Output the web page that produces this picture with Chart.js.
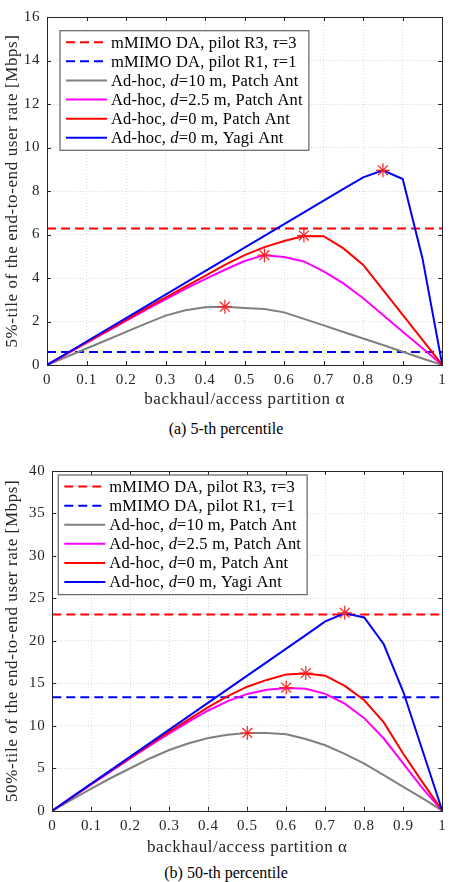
<!DOCTYPE html>
<html>
<head>
<meta charset="utf-8">
<script src="https://cdn.jsdelivr.net/npm/chart.js@4.4.0/dist/chart.umd.min.js"></script>
<style>
body { margin: 0; background: #fff; width: 452px; height: 882px; position: relative; overflow: hidden; font-family: "Liberation Serif", serif; }
.panel { position: absolute; left: 0; width: 452px; }
.caption { position: absolute; left: 0; width: 452px; text-align: center; font-size: 16px; line-height: 18px; color: #000; }
</style>
</head>
<body>
<div class="panel" style="top:0;height:412px"><canvas id="chartA"></canvas></div>
<div class="caption" style="top:420px">(a) 5-th percentile</div>
<div class="panel" style="top:455px;height:405px"><canvas id="chartB"></canvas></div>
<div class="caption" style="top:864px">(b) 50-th percentile</div>
<script>
// backhaul/access partition alpha
const alpha = [0, 0.05, 0.1, 0.15, 0.2, 0.25, 0.3, 0.35, 0.4, 0.45, 0.5, 0.55, 0.6, 0.65, 0.7, 0.75, 0.8, 0.85, 0.9, 0.95, 1];
const refX = [0, 1];
const xTicks = [0, 0.1, 0.2, 0.3, 0.4, 0.5, 0.6, 0.7, 0.8, 0.9, 1];
const xTickLabels = ['0', '0.1', '0.2', '0.3', '0.4', '0.5', '0.6', '0.7', '0.8', '0.9', '1'];

// (a) 5-th percentile
const p5R3 = [6.28, 6.28];
const p5R1 = [0.6, 0.6];
const p5Patch10 = [0, 0.38, 0.76, 1.14, 1.52, 1.9, 2.27, 2.52, 2.66, 2.68, 2.62, 2.57, 2.42, 2.12, 1.82, 1.52, 1.22, 0.92, 0.61, 0.3, 0];
const p5Patch25 = [0, 0.51, 1.02, 1.52, 2.03, 2.53, 3.02, 3.5, 3.95, 4.38, 4.78, 5.05, 4.97, 4.76, 4.3, 3.75, 3.07, 2.3, 1.53, 0.77, 0];
const p5Patch0 = [0, 0.52, 1.04, 1.56, 2.08, 2.6, 3.1, 3.6, 4.1, 4.6, 5.05, 5.42, 5.7, 5.93, 5.92, 5.36, 4.6, 3.45, 2.3, 1.15, 0];
const p5Yagi0 = [0, 0.54, 1.08, 1.62, 2.16, 2.7, 3.24, 3.78, 4.32, 4.86, 5.4, 5.94, 6.48, 7.02, 7.56, 8.1, 8.63, 8.95, 8.55, 4.9, 0];
const p5OptX = [0.45, 0.55, 0.65, 0.85];
const p5OptY = [2.68, 5.05, 5.95, 8.95];
const p5Ticks = [0, 2, 4, 6, 8, 10, 12, 14, 16];
const p5TickLabels = ['0', '2', '4', '6', '8', '10', '12', '14', '16'];

// (b) 50-th percentile
const p50R3 = [23.1, 23.1];
const p50R1 = [13.37, 13.37];
const p50Patch10 = [0, 1.3, 2.6, 3.85, 5.0, 6.15, 7.15, 7.95, 8.55, 8.95, 9.15, 9.15, 9.0, 8.45, 7.7, 6.7, 5.55, 4.2, 2.8, 1.45, 0];
const p50Patch25 = [0, 1.55, 3.1, 4.62, 6.15, 7.65, 9.1, 10.5, 11.8, 12.9, 13.75, 14.25, 14.45, 14.35, 13.76, 12.6, 10.9, 8.5, 5.55, 2.6, 0];
const p50Patch0 = [0, 1.57, 3.14, 4.7, 6.25, 7.8, 9.3, 10.75, 12.2, 13.5, 14.6, 15.4, 16.05, 16.15, 15.9, 14.7, 13.0, 10.4, 6.7, 3.3, 0];
const p50Yagi0 = [0, 1.59, 3.18, 4.77, 6.36, 7.95, 9.54, 11.13, 12.72, 14.31, 15.9, 17.49, 19.08, 20.67, 22.3, 23.25, 22.75, 19.6, 14.0, 7.0, 0];
const p50OptX = [0.5, 0.6, 0.65, 0.75];
const p50OptY = [9.15, 14.5, 16.2, 23.3];
const p50Ticks = [0, 5, 10, 15, 20, 25, 30, 35, 40];
const p50TickLabels = ['0', '5', '10', '15', '20', '25', '30', '35', '40'];

// legend labels, _x_ marks italic parts
const seriesLabels = [
    'mMIMO DA, pilot R3, _τ_=3',
    'mMIMO DA, pilot R1, _τ_=1',
    'Ad-hoc, _d_=10 m, Patch Ant',
    'Ad-hoc, _d_=2.5 m, Patch Ant',
    'Ad-hoc, _d_=0 m, Patch Ant',
    'Ad-hoc, _d_=0 m, Yagi Ant'
];
const seriesColors = ['#ff0000', '#0000ff', '#808080', '#ff00ff', '#ff0000', '#0000ff'];

const FONT = '"Liberation Serif", serif';
const AXIS = '#262626';

function pts(xs, ys) {
    return xs.map((x, i) => ({ x: x, y: ys[i] }));
}

// wider letter spacing so Times looks closer to the LaTeX font
const spacing = {
    id: 'spacing',
    beforeDraw(chart) { chart.ctx.letterSpacing = '0.6px'; }
};

// box + inner tick marks, matlab style
const innerTicks = {
    id: 'innerTicks',
    afterDraw(chart) {
        const { ctx, chartArea: a, scales } = chart;
        ctx.save();
        ctx.strokeStyle = AXIS;
        ctx.lineWidth = 1;
        ctx.beginPath();
        scales.x.ticks.forEach(t => {
            const px = Math.round(scales.x.getPixelForValue(t.value)) + 0.5;
            ctx.moveTo(px, a.bottom); ctx.lineTo(px, a.bottom - 4);
            ctx.moveTo(px, a.top); ctx.lineTo(px, a.top + 4);
        });
        scales.y.ticks.forEach(t => {
            const py = Math.round(scales.y.getPixelForValue(t.value)) + 0.5;
            ctx.moveTo(a.left, py); ctx.lineTo(a.left + 4, py);
            ctx.moveTo(a.right, py); ctx.lineTo(a.right - 4, py);
        });
        ctx.stroke();
        ctx.strokeRect(Math.round(a.left) + 0.5, Math.round(a.top) + 0.5, Math.round(a.right - a.left), Math.round(a.bottom - a.top));
        ctx.restore();
    }
};

function richWidth(ctx, label, size) {
    let w = 0;
    label.split('_').forEach((part, i) => {
        ctx.font = (i % 2 ? 'italic ' : '') + size + 'px ' + FONT;
        w += ctx.measureText(part).width;
    });
    return w;
}

const legendBox = {
    id: 'legendBox',
    afterDraw(chart, args, opts) {
        const ctx = chart.ctx, a = chart.chartArea;
        const items = chart.data.datasets.filter(d => d.inLegend);
        const size = opts.size;
        const rowH = opts.rowH;
        ctx.save();
        ctx.letterSpacing = '0.2px';
        let maxW = 0;
        items.forEach(d => { maxW = Math.max(maxW, richWidth(ctx, d.label, size)); });
        const x0 = a.left + opts.dx, y0 = a.top + opts.dy;
        const w = 6 + 41 + 4 + maxW + 6;
        const h = items.length * rowH + 5;
        ctx.fillStyle = '#fff';
        ctx.fillRect(x0, y0, w, h);
        ctx.strokeStyle = '#6e6e6e';
        ctx.lineWidth = 1.3;
        ctx.strokeRect(x0, y0, w, h);
        items.forEach((d, i) => {
            const cy = y0 + 2 + rowH * (i + 0.5);
            ctx.strokeStyle = d.borderColor;
            ctx.lineWidth = 2;
            ctx.setLineDash(d.borderDash || []);
            ctx.beginPath();
            ctx.moveTo(x0 + 6, cy); ctx.lineTo(x0 + 47, cy);
            ctx.stroke();
            ctx.setLineDash([]);
            let tx = x0 + 51;
            ctx.fillStyle = '#000';
            ctx.textBaseline = 'middle';
            d.label.split('_').forEach((part, k) => {
                ctx.font = (k % 2 ? 'italic ' : '') + size + 'px ' + FONT;
                ctx.fillText(part, tx, cy + 1);
                tx += ctx.measureText(part).width;
            });
        });
        ctx.restore();
    }
};

function makeChart(id, s) {
    const lines = [s.r3, s.r1, s.patch10, s.patch25, s.patch0, s.yagi0];
    const datasets = lines.map((ys, i) => ({
        label: seriesLabels[i],
        inLegend: true,
        data: i < 2 ? pts(refX, ys) : pts(alpha, ys),
        borderColor: seriesColors[i],
        borderWidth: 2,
        borderDash: i < 2 ? [9, 5] : undefined,
        pointRadius: 0,
        tension: 0,
        order: 6 - i + 1
    }));
    datasets.push({
        label: 'optimum',
        inLegend: false,
        data: pts(s.optX, s.optY),
        showLine: false,
        pointStyle: 'star',
        pointRadius: 7,
        borderColor: '#ff2020',
        borderWidth: 1.2,
        order: 0
    });

    new Chart(document.getElementById(id), {
        type: 'line',
        data: { datasets: datasets },
        plugins: [spacing, innerTicks, legendBox],
        options: {
            responsive: true,
            maintainAspectRatio: false,
            animation: false,
            layout: { padding: { top: s.padTop, right: 7, left: 0, bottom: 0 } },
            plugins: {
                legend: { display: false },
                tooltip: { enabled: false },
                legendBox: { dx: s.legDx, dy: s.legDy, size: 16.5, rowH: 19.1 }
            },
            scales: {
                x: {
                    type: 'linear', min: 0, max: 1,
                    afterBuildTicks: sc => { sc.ticks = xTicks.map(v => ({ value: v })); },
                    afterFit: sc => { sc.height = s.xHeight; },
                    grid: { color: '#d9d9d9', drawTicks: false },
                    border: { display: false, dash: [1, 2] },
                    ticks: { callback: (v, i) => xTickLabels[i], padding: 6, maxRotation: 0, color: AXIS, font: { family: FONT, size: 15 } },
                    title: { display: true, text: 'backhaul/access partition α', color: AXIS, padding: { bottom: 2 }, font: { family: FONT, size: 17 } }
                },
                y: {
                    min: s.yTicks[0], max: s.yTicks[s.yTicks.length - 1],
                    afterBuildTicks: sc => { sc.ticks = s.yTicks.map(v => ({ value: v })); },
                    afterFit: sc => { sc.width = s.yWidth; },
                    grid: { color: '#d9d9d9', drawTicks: false },
                    border: { display: false, dash: [1, 2] },
                    ticks: { callback: (v, i) => s.yLabels[i], padding: 7, color: AXIS, font: { family: FONT, size: 15 } },
                    title: { display: true, text: s.yTitle, color: AXIS, padding: { top: 2 }, font: { family: FONT, size: 17 } }
                }
            }
        }
    });
}

makeChart('chartA', {
    r3: p5R3, r1: p5R1, patch10: p5Patch10, patch25: p5Patch25, patch0: p5Patch0, yagi0: p5Yagi0,
    optX: p5OptX, optY: p5OptY, yTicks: p5Ticks, yLabels: p5TickLabels,
    yTitle: '5%-tile of the end-to-end user rate [Mbps]',
    padTop: 17, yWidth: 47, xHeight: 47, legDx: 13, legDy: 13.7
});
makeChart('chartB', {
    r3: p50R3, r1: p50R1, patch10: p50Patch10, patch25: p50Patch25, patch0: p50Patch0, yagi0: p50Yagi0,
    optX: p50OptX, optY: p50OptY, yTicks: p50Ticks, yLabels: p50TickLabels,
    yTitle: '50%-tile of the end-to-end user rate [Mbps]',
    padTop: 14.3, yWidth: 52.3, xHeight: 49.3, legDx: 6, legDy: 4
});
</script>
</body>
</html>
